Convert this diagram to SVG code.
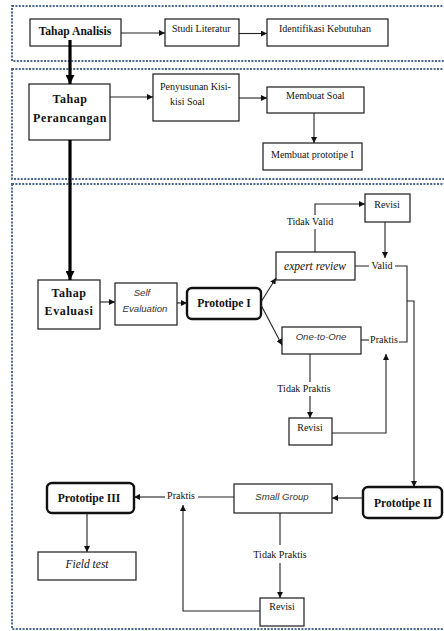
<svg xmlns="http://www.w3.org/2000/svg" width="444" height="631" viewBox="0 0 444 631">
<style>
.sec{fill:none;stroke:#4a6790;stroke-width:2;stroke-dasharray:2 1.4}
.box{fill:#fff;stroke:#1a1a1a;stroke-width:1.2}
.proto{fill:#fff;stroke:#111;stroke-width:2.4}
.c{fill:none;stroke:#222;stroke-width:1.1}
.thick{fill:none;stroke:#000;stroke-width:3.2}
.r{font-family:"Liberation Serif",serif;font-size:10px;fill:#111}
.b{font-family:"Liberation Serif",serif;font-size:11.6px;font-weight:bold;fill:#111}
.bt{font-family:"Liberation Serif",serif;font-size:12px;font-weight:bold;fill:#111;letter-spacing:0.6px}
.is{font-family:"Liberation Sans",sans-serif;font-size:9.6px;font-style:italic;fill:#333}
.ir{font-family:"Liberation Serif",serif;font-size:11.5px;font-style:italic;fill:#111}
</style>
<defs>
<marker id="ah" viewBox="0 0 10 10" refX="10" refY="5" markerWidth="6" markerHeight="6" markerUnits="userSpaceOnUse" orient="auto"><path d="M0,0 L10,5 L0,10 z" fill="#111"/></marker>
<marker id="ahT" viewBox="0 0 10 10" refX="10" refY="5" markerWidth="9" markerHeight="9" markerUnits="userSpaceOnUse" orient="auto"><path d="M0,0 L10,5 L0,10 z" fill="#000"/></marker>
</defs>
<g id="sections">
<rect class="sec" x="12" y="6" width="440" height="55"/>
<rect class="sec" x="12" y="69" width="440" height="110"/>
<rect class="sec" x="12" y="184" width="440" height="445"/>
</g>
<g id="n1"><rect class="box" x="30" y="19" width="91" height="27"/><text class="b" x="75" y="35" text-anchor="middle">Tahap Analisis</text></g>
<g id="n2"><rect class="box" x="165" y="19" width="74" height="27"/><text class="r" x="172" y="32">Studi Literatur</text></g>
<g id="n3"><rect class="box" x="267" y="19" width="121" height="27"/><text class="r" x="279" y="32">Identifikasi Kebutuhan</text></g>
<g id="n4"><rect class="box" x="29" y="84" width="81" height="56"/><text class="bt" x="70" y="103" text-anchor="middle">Tahap</text><text class="bt" x="70" y="122" text-anchor="middle">Perancangan</text></g>
<g id="n5"><rect class="box" x="153" y="74" width="86" height="47"/><text class="r" x="160" y="90">Penyusunan Kisi-</text><text class="r" x="170" y="105">kisi Soal</text></g>
<g id="n6"><rect class="box" x="267" y="87" width="97" height="26"/><text class="r" x="286" y="99">Membuat Soal</text></g>
<g id="n7"><rect class="box" x="263" y="143" width="99" height="27"/><text class="r" x="271" y="158">Membuat prototipe I</text></g>
<g id="n8"><rect class="box" x="38" y="280" width="62" height="49"/><text class="bt" x="69" y="297" text-anchor="middle">Tahap</text><text class="bt" x="69" y="315" text-anchor="middle">Evaluasi</text></g>
<g id="n9"><rect class="box" x="115" y="283" width="62" height="42"/><text class="is" x="142" y="296" text-anchor="middle">Self</text><text class="is" x="145" y="312" text-anchor="middle">Evaluation</text></g>
<g id="n10"><rect class="proto" x="187" y="288" width="74" height="31" rx="5"/><text class="b" x="224" y="307" text-anchor="middle">Prototipe I</text></g>
<g id="n11"><rect class="box" x="276" y="252" width="79" height="28"/><text class="ir" x="315" y="270" text-anchor="middle">expert review</text></g>
<g id="n12"><rect class="box" x="365" y="194" width="45" height="28"/><text class="r" x="387" y="208" text-anchor="middle">Revisi</text></g>
<g id="n13"><rect class="box" x="282" y="327" width="79" height="27"/><text class="is" x="321" y="340" text-anchor="middle">One-to-One</text></g>
<g id="n14"><rect class="box" x="289" y="418" width="43" height="27"/><text class="r" x="310" y="431" text-anchor="middle">Revisi</text></g>
<g id="n15"><rect class="proto" x="363" y="487" width="79" height="31" rx="5"/><text class="b" x="403" y="507" text-anchor="middle">Prototipe II</text></g>
<g id="n16"><rect class="box" x="234" y="484" width="98" height="29"/><text class="is" x="282" y="500" text-anchor="middle">Small Group</text></g>
<g id="n17"><rect class="proto" x="47" y="483" width="87" height="30" rx="5"/><text class="b" x="89" y="502" text-anchor="middle">Prototipe III</text></g>
<g id="n18"><rect class="box" x="38" y="552" width="98" height="28"/><text class="ir" x="87" y="568" text-anchor="middle">Field test</text></g>
<g id="n19"><rect class="box" x="260" y="598" width="44" height="28"/><text class="r" x="282" y="610" text-anchor="middle">Revisi</text></g>
<g id="labels">
<text class="r" x="310" y="225" text-anchor="middle">Tidak Valid</text>
<text class="r" x="382" y="269" text-anchor="middle">Valid</text>
<text class="r" x="384" y="343" text-anchor="middle">Praktis</text>
<text class="r" x="304" y="392" text-anchor="middle">Tidak Praktis</text>
<text class="r" x="181" y="499" text-anchor="middle">Praktis</text>
<text class="r" x="280" y="558" text-anchor="middle">Tidak Praktis</text>
</g>
<g id="connectors">
<path class="c" d="M121,33 H165" marker-end="url(#ah)"/>
<path class="c" d="M239,33.5 H267" marker-end="url(#ah)"/>
<path class="thick" d="M70,40 V84" marker-end="url(#ahT)"/>
<path class="c" d="M110,97 H153" marker-end="url(#ah)"/>
<path class="c" d="M239,98 H267" marker-end="url(#ah)"/>
<path class="c" d="M314,113 V143" marker-end="url(#ah)"/>
<path class="thick" d="M70,140 V280" marker-end="url(#ahT)"/>
<path class="c" d="M100,302 H115" marker-end="url(#ah)"/>
<path class="c" d="M177,303 H187" marker-end="url(#ah)"/>
<path class="c" d="M261,302 L276,278" marker-end="url(#ah)"/>
<path class="c" d="M261,305 L282,345" marker-end="url(#ah)"/>
<path class="c" d="M315,252 V229 M315,215 V204 H365" marker-end="url(#ah)"/>
<path class="c" d="M385,222 V258" marker-end="url(#ah)"/>
<path class="c" d="M355,266 H369 M395,266 H407 V342 H399"/>
<path class="c" d="M407,301 H414 V487" marker-end="url(#ah)"/>
<path class="c" d="M361,340 H369"/>
<path class="c" d="M310,354 V382 M310,396 V418" marker-end="url(#ah)"/>
<path class="c" d="M332,433 H386 V354" marker-end="url(#ah)"/>
<path class="c" d="M363,498 H332" marker-end="url(#ah)"/>
<path class="c" d="M234,497 H198"/>
<path class="c" d="M165,497 H134" marker-end="url(#ah)"/>
<path class="c" d="M280,513 V545 M280,563 V598" marker-end="url(#ah)"/>
<path class="c" d="M260,611 H183 V505" marker-end="url(#ah)"/>
<path class="c" d="M87,513 V552" marker-end="url(#ah)"/>
</g>
</svg>
